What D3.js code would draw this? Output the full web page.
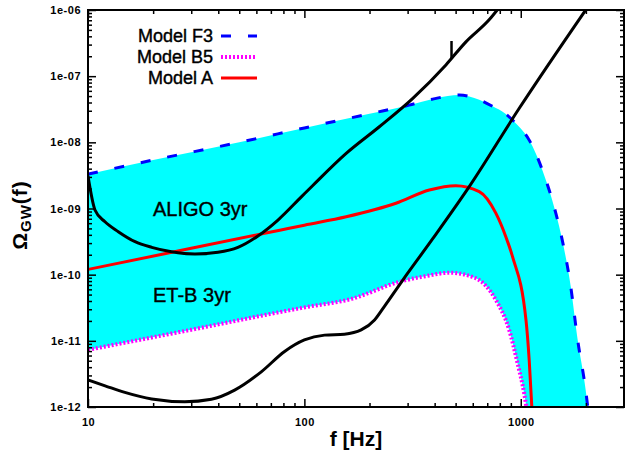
<!DOCTYPE html>
<html>
<head>
<meta charset="utf-8">
<script src="https://cdn.jsdelivr.net/npm/d3@7"></script>
<style>
    body { margin: 0; background: #fff; }
    svg { display: block; font-family: 'Liberation Sans', Arial, sans-serif; }
</style>
</head>
<body>
<div id="wrapper"></div>
<script>
// 1. Data
const freqF3 = [10, 20, 50, 100, 200, 305, 392, 460, 520, 643, 741, 850, 948, 1094, 1259, 1452, 1556, 1702, 1827, 1995, 2040]
const omegaF3 = [3.3e-9, 5.4e-9, 1.0e-8, 1.65e-8, 2.7e-8, 3.65e-8, 4.5e-8, 5.0e-8, 5.2e-8, 4.4e-8, 3.5e-8, 2.7e-8, 1.94e-8, 1.08e-8, 3.8e-9, 8.5e-10, 3.3e-10, 6.6e-11, 1.1e-11, 1.8e-12, 1e-12]

const freqB5 = [10, 30, 100, 165, 275, 370, 468, 621, 767, 884, 966, 1037, 1062]
const omegaB5 = [7.3e-12, 1.47e-11, 3.2e-11, 4.3e-11, 7.8e-11, 9.6e-11, 1.07e-10, 8.8e-11, 4.14e-11, 1.46e-11, 4.6e-12, 1.6e-12, 1e-12]

const freqA = [10, 30, 77, 100, 156, 265, 378, 501, 643, 767, 853, 916, 1057, 1094, 1125]
const omegaA = [1.2e-10, 2.5e-10, 4.7e-10, 5.6e-10, 7.5e-10, 1.2e-9, 1.9e-9, 2.21e-9, 1.8e-9, 8.5e-10, 3.75e-10, 1.87e-10, 2.07e-11, 5.1e-12, 1e-12]

const freqALIGO = [10, 10.77, 11.98, 13.8, 16.5, 19.7, 24.3, 31.2, 39.9, 49.3, 61, 75.5, 96.8, 109.4, 156, 222, 317, 451, 558, 714, 778]
const omegaALIGO = [3.1e-9, 9.5e-10, 6.3e-10, 4.47e-10, 3.15e-10, 2.59e-10, 2.22e-10, 2.05e-10, 2.18e-10, 2.59e-10, 3.85e-10, 6.7e-10, 1.5e-9, 2.23e-9, 6.8e-9, 1.72e-8, 4.63e-8, 1.48e-7, 3.3e-7, 7.1e-7, 1e-6]
const freqSpike = [478.6, 478.6]
const omegaSpike = [1.85e-7, 3.4e-7]

const freqETB = [10, 12, 14.8, 19.7, 28, 37.2, 47.6, 63.2, 81, 100, 124, 153, 183, 211, 234, 285, 392, 578, 984, 1995]
const omegaETB = [2.56e-12, 2.09e-12, 1.66e-12, 1.32e-12, 1.2e-12, 1.31e-12, 1.8e-12, 3.4e-12, 6.9e-12, 1.03e-11, 1.22e-11, 1.26e-11, 1.46e-11, 2.07e-11, 3.3e-11, 8.3e-11, 3.5e-10, 2.14e-9, 3.27e-8, 1e-6]

const xMajor = [10, 100, 1000]
const xMinor = [20, 30, 40, 50, 60, 70, 80, 90, 200, 300, 400, 500, 600, 700, 800, 900, 2000, 3000]
const yMajor = [1e-12, 1e-11, 1e-10, 1e-9, 1e-8, 1e-7, 1e-6]
const yTickLabels = ['1e-12', '1e-11', '1e-10', '1e-09', '1e-08', '1e-07', '1e-06']

const legendLabels = ['Model F3', 'Model B5', 'Model A']

// 2. Dimensions
const dms = {
    width: 625,
    height: 451,
    margins: { top: 10, right: 1, bottom: 44, left: 88 }
}
dms.boundedWidth = dms.width - dms.margins.left - dms.margins.right
dms.boundedHeight = dms.height - dms.margins.top - dms.margins.bottom

// 3. Canvas
const wrapper = d3.select('#wrapper')
    .append('svg')
        .attr('width', dms.width)
        .attr('height', dms.height)

const bounds = wrapper.append('g')
    .attr('transform', `translate(${dms.margins.left},${dms.margins.top})`)

bounds.append('clipPath')
    .attr('id', 'plot-clip')
    .append('rect')
        .attr('width', dms.boundedWidth)
        .attr('height', dms.boundedHeight)

// 4. Scales
const xScale = d3.scaleLog()
    .domain([10, 3000])
    .range([0, dms.boundedWidth])

const yScale = d3.scaleLog()
    .domain([1e-12, 1e-6])
    .range([dms.boundedHeight, 0])

// 5. Draw data
const lineGen = d3.line()
    .x(d => xScale(d[0]))
    .y(d => yScale(d[1]))
    .curve(d3.curveMonotoneX)

const areaGen = d3.area()
    .x(d => xScale(d[0]))
    .y0(dms.boundedHeight)
    .y1(d => yScale(d[1]))
    .curve(d3.curveMonotoneX)

const plot = bounds.append('g').attr('clip-path', 'url(#plot-clip)')

const f3 = d3.zip(freqF3, omegaF3)
const b5 = d3.zip(freqB5, omegaB5)
const modelA = d3.zip(freqA, omegaA)

// band between F3 and B5
plot.append('path').attr('d', areaGen(f3)).attr('fill', '#00ffff')
plot.append('path').attr('d', areaGen(b5)).attr('fill', '#ffffff')

plot.append('path')
    .attr('d', lineGen(modelA))
    .attr('fill', 'none')
    .attr('stroke', '#ff0000')
    .attr('stroke-width', 3)

plot.append('path')
    .attr('d', lineGen(b5))
    .attr('fill', 'none')
    .attr('stroke', '#ff00ff')
    .attr('stroke-width', 4)
    .attr('stroke-dasharray', '2 2')

plot.append('path')
    .attr('d', lineGen(f3))
    .attr('fill', 'none')
    .attr('stroke', '#0000ff')
    .attr('stroke-width', 3)
    .attr('stroke-dasharray', '10 17')

const sensitivity = [
    d3.zip(freqALIGO, omegaALIGO),
    d3.zip(freqETB, omegaETB)
]
plot.selectAll('.sens')
    .data(sensitivity)
    .join('path')
        .attr('class', 'sens')
        .attr('d', lineGen)
        .attr('fill', 'none')
        .attr('stroke', '#000')
        .attr('stroke-width', 3)

plot.append('path')
    .attr('d', d3.line().x(d => xScale(d[0])).y(d => yScale(d[1]))(d3.zip(freqSpike, omegaSpike)))
    .attr('stroke', '#000')
    .attr('stroke-width', 2.5)

const heavy = t => t.attr('stroke', '#000').attr('stroke-width', 0.4)

bounds.append('text')
    .attr('x', 65)
    .attr('y', 206)
    .style('font-size', '20px')
    .call(heavy)
    .text('ALIGO 3yr')

bounds.append('text')
    .attr('x', 65)
    .attr('y', 292)
    .style('font-size', '20px')
    .call(heavy)
    .text('ET-B 3yr')

// 6. Peripherals
const tickFont = g => g.selectAll('text')
    .style('font-size', '11px')
    .style('font-weight', 'bold')
    .style('letter-spacing', '0.5px')
    .attr('fill', '#000')

const styleAxis = g => {
    g.select('.domain').remove()
    g.selectAll('line').attr('stroke', '#000').attr('stroke-width', 1.5)
}

bounds.append('g')
    .call(d3.axisLeft(yScale).tickValues(yMajor).tickSize(-8).tickPadding(7)
        .tickFormat((d, i) => yTickLabels[i]))
    .call(styleAxis).call(tickFont)

const yMinor = yMajor.slice(0, -1).flatMap(d => d3.range(2, 10).map(k => d * k))

bounds.append('g')
    .call(d3.axisLeft(yScale).tickValues(yMinor).tickSize(-4).tickFormat(''))
    .call(styleAxis)

bounds.append('g')
    .attr('transform', `translate(${dms.boundedWidth},0)`)
    .call(d3.axisRight(yScale).tickValues(yMajor).tickSize(-8).tickFormat(''))
    .call(styleAxis)

bounds.append('g')
    .attr('transform', `translate(${dms.boundedWidth},0)`)
    .call(d3.axisRight(yScale).tickValues(yMinor).tickSize(-4).tickFormat(''))
    .call(styleAxis)

bounds.append('g')
    .attr('transform', `translate(0,${dms.boundedHeight})`)
    .call(d3.axisBottom(xScale).tickValues(xMajor).tickSize(-8).tickPadding(11)
        .tickFormat(d3.format('d')))
    .call(styleAxis).call(tickFont)

bounds.append('g')
    .attr('transform', `translate(0,${dms.boundedHeight})`)
    .call(d3.axisBottom(xScale).tickValues(xMinor).tickSize(-4).tickFormat(''))
    .call(styleAxis)

bounds.append('g')
    .call(d3.axisTop(xScale).tickValues(xMajor).tickSize(-8).tickFormat(''))
    .call(styleAxis)

bounds.append('g')
    .call(d3.axisTop(xScale).tickValues(xMinor).tickSize(-4).tickFormat(''))
    .call(styleAxis)

bounds.append('rect')
    .attr('width', dms.boundedWidth)
    .attr('height', dms.boundedHeight)
    .attr('fill', 'none')
    .attr('stroke', '#000')
    .attr('stroke-width', 2)

// legend
const legendColors = ['#0000ff', '#ff00ff', '#ff0000']
const legendDash = ['10 17', '2 2', null]
const legendWidth = [3, 4, 3]

const legend = wrapper.append('g')
const rows = legend.selectAll('g')
    .data(legendLabels)
    .join('g')
        .attr('transform', (d, i) => `translate(0,${36 + i * 21})`)

rows.append('text')
    .attr('x', 213)
    .attr('y', 6)
    .attr('text-anchor', 'end')
    .style('font-size', '18px')
    .call(heavy)
    .text(d => d)

rows.append('line')
    .attr('x1', 221)
    .attr('x2', 257)
    .attr('stroke', (d, i) => legendColors[i])
    .attr('stroke-width', (d, i) => legendWidth[i])
    .attr('stroke-dasharray', (d, i) => legendDash[i])

// axis labels
wrapper.append('text')
    .attr('x', dms.margins.left + dms.boundedWidth / 2)
    .attr('y', 446)
    .attr('text-anchor', 'middle')
    .style('font-size', '21px')
    .style('font-weight', 'bold')
    .text('f [Hz]')

const yLabel = wrapper.append('text')
    .attr('transform', 'translate(27,215) rotate(-90)')
    .attr('text-anchor', 'middle')
    .style('font-size', '21px')
    .style('font-weight', 'bold')
    .style('letter-spacing', '1px')
yLabel.append('tspan').text('Ω')
yLabel.append('tspan').attr('dy', 4).style('font-size', '15px').text('GW')
yLabel.append('tspan').attr('dy', -4).text('(f)')
</script>
</body>
</html>
